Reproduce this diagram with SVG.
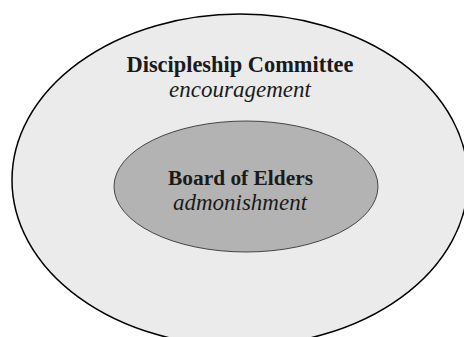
<svg xmlns="http://www.w3.org/2000/svg" width="464" height="337" viewBox="0 0 464 337">
<style>
.t{font-family:"Liberation Serif","DejaVu Serif",serif;fill:#1a1a1a;text-anchor:middle}
.h{font-weight:bold}
.s{font-size:23px;font-style:italic}
</style>
<rect width="464" height="337" fill="#ffffff"/>
<g id="discipleship-committee">
<ellipse cx="240" cy="180" rx="228" ry="166" fill="#ebebeb" stroke="#000" stroke-width="1.5"/>
<text class="t h" x="240" y="72" font-size="22.4">Discipleship Committee</text>
<text class="t s" x="240" y="97">encouragement</text>
</g>
<g id="board-of-elders">
<ellipse cx="246" cy="186.5" rx="132" ry="65.5" fill="#b3b3b3" stroke="#222" stroke-width="0.8"/>
<text class="t h" x="240.5" y="185" font-size="21.4">Board of Elders</text>
<text class="t s" x="240" y="210">admonishment</text>
</g>
<g id="connectors"/>
</svg>
